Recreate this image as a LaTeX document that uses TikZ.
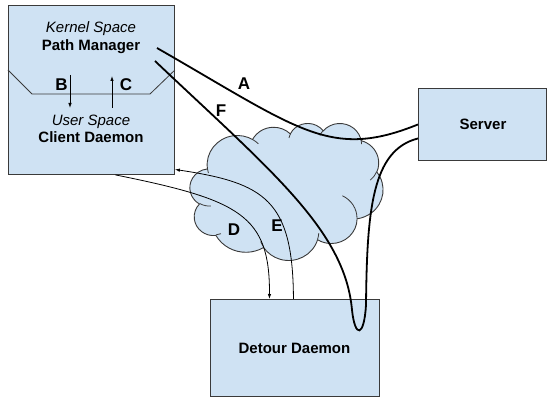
\documentclass[tikz,border=0pt]{standalone}
\usepackage{fontspec}
\setmainfont{Liberation Sans}
\usetikzlibrary{arrows.meta}
\definecolor{boxfill}{HTML}{CFE2F3}
\definecolor{edge}{HTML}{3A3A3A}
\tikzset{
  panel/.style={draw=edge, fill=boxfill, line width=0.9pt, inner sep=0pt},
  txt/.style={anchor=base, inner sep=0pt, font=\fontsize{15}{18}\selectfont},
  tag/.style={anchor=base, inner sep=0pt, font=\fontsize{17}{20}\selectfont\bfseries},
  heavy/.style={draw=black, line width=1.8pt},
  wire/.style={draw=black, line width=0.8pt},
  arrowend/.style={-{Latex[length=5pt,width=3.5pt]}},
  % elliptical arc given as in DrawingML: radii, start angle, sweep (angles measured on screen)
  ooarc/.style n args={4}{insert path={
    arc[x radius=#1, y radius=#2,
        start angle={atan2((#1)*sin(#3),(#2)*cos(#3))},
        delta angle={(#4)+((atan2((#1)*sin((#3)+(#4)),(#2)*cos((#3)+(#4)))-atan2((#1)*sin(#3),(#2)*cos(#3))-(#4))-360*round((atan2((#1)*sin((#3)+(#4)),(#2)*cos((#3)+(#4)))-atan2((#1)*sin(#3),(#2)*cos(#3))-(#4))/360))}]}}
}
\begin{document}
\begin{tikzpicture}[x=1pt,y=-1pt]
\useasboundingbox (0,0) rectangle (547,401);

% boxes
\node[panel, anchor=north west, minimum width=166pt, minimum height=169pt] (client) at (8,5) {};
\node[panel, anchor=north west, minimum width=128pt, minimum height=72pt] (server) at (418,88) {};
\node[panel, anchor=north west, minimum width=169pt, minimum height=97pt] (detour) at (210,299) {};

% divider between kernel and user space
\draw[draw=edge, line width=0.8pt] (client.north west |- 0,70) -- (32,94) -- (150,94) -- (client.north east |- 0,70);

% cloud
\begin{scope}[shift={(190,123)}, xscale=193/432, yscale=137/432]
  \path[panel] (39.00,143.70)
    [ooarc={67.53}{91.90}{-190.4875}{123.7805}]
    [ooarc={53.33}{72.67}{-144.1024}{89.9452}]
    [ooarc={43.65}{59.45}{-145.8079}{99.7230}]
    [ooarc={48.57}{65.95}{-130.9861}{117.2417}]
    [ooarc={53.33}{72.73}{-78.7089}{109.0269}]
    [ooarc={67.75}{92.20}{-46.2673}{130.2690}]
    [ooarc={57.85}{78.67}{0.6250}{114.0333}]
    [ooarc={67.52}{92.15}{22.4516}{115.1726}]
    [ooarc={77.20}{105.43}{66.2426}{75.7110}]
    [ooarc={43.60}{59.18}{-274.9421}{146.7356}]
    [ooarc={43.45}{59.45}{-246.8285}{152.5189}]
    -- cycle;
  \draw[draw=edge, line width=0.8pt]
    (46.93,261.77) [ooarc={43.45}{59.45}{86.7420}{26.4295}]
    (69.28,348.99) [ooarc={43.60}{59.18}{73.6105}{11.4475}]
    (164.78,390.90) [ooarc={67.52}{92.15}{137.6242}{14.0811}]
    (288.27,347.51) [ooarc={67.52}{92.15}{6.4533}{15.9984}]
    (341.29,229.54) [ooarc={57.85}{78.67}{-70.2924}{70.9174}]
    (417.98,153.54) [ooarc={53.33}{72.73}{30.3180}{27.7515}]
    (383.24,54.26) [ooarc={48.57}{65.95}{-13.7443}{14.8589}]
    (290.78,39.52) [ooarc={48.57}{65.95}{-149.1815}{18.1954}]
    (221.41,47.20) [ooarc={43.65}{59.45}{-163.4943}{17.6864}]
    (140.00,51.92) [ooarc={67.53}{91.90}{-66.7070}{12.3194}]
    (41.27,157.89) [ooarc={67.53}{91.90}{157.6544}{11.8582}];
\end{scope}

% texts
\node[txt] (kernel) at (91,32.5) {\itshape Kernel Space};
\node[txt] (pm) at (91,50.5) {\bfseries Path Manager};
\node[txt] (user) at (91,125.7) {\itshape User Space};
\node[txt] (cd) at (91,142.4) {\bfseries Client Daemon};
\node[txt] (srvlbl) at (483,130) {\bfseries Server};
\node[txt] (ddlbl) at (294.5,353) {\bfseries Detour Daemon};

% labels
\node[tag] (la) at (244,90) {A};
\node[tag] (lb) at (61.5,90.7) {B};
\node[tag] (lc) at (126,91) {C};
\node[tag] (ld) at (234,235.7) {D};
\node[tag] (le) at (277,231.7) {E};
\node[tag] (lf) at (221,117) {F};

% connector end points
\coordinate (aStart) at (157,48);
\coordinate (fStart) at (155,61);
\coordinate (fEnd) at ([yshift=-14pt]server.west);
\coordinate (bTop) at (70,75);
\coordinate (bBot) at (70,108);
\coordinate (cBot) at (112,108);
\coordinate (cTop) at (112,76);
\coordinate (dStart) at ([xshift=24pt]client.south);
\coordinate (dEnd) at ([xshift=-25.5pt]detour.north);
\coordinate (eStart) at ([xshift=-1.5pt]detour.north);
\coordinate (eEnd) at ([yshift=-79.5pt]client.east);

% kernel / user space messages
\draw[wire, arrowend] (bTop) -- (bBot);
\draw[wire, arrowend] (cBot) -- (cTop);

% detour traffic
\draw[wire, arrowend] (dStart) .. controls (240,200) and (270,215) .. (dEnd);
\draw[wire, arrowend] (eStart) .. controls (293,200) and (265,183) .. (eEnd);

% subflows
\draw[heavy] (aStart) .. controls (300,130) and (330,160) .. (server.west);
\draw[heavy] (fStart) .. controls (270,170) and (345,230) .. (352,310)
  .. controls (355,338) and (364,338) .. (366,305)
  .. controls (367,210) and (372,150) .. (fEnd);
\end{tikzpicture}
\end{document}
